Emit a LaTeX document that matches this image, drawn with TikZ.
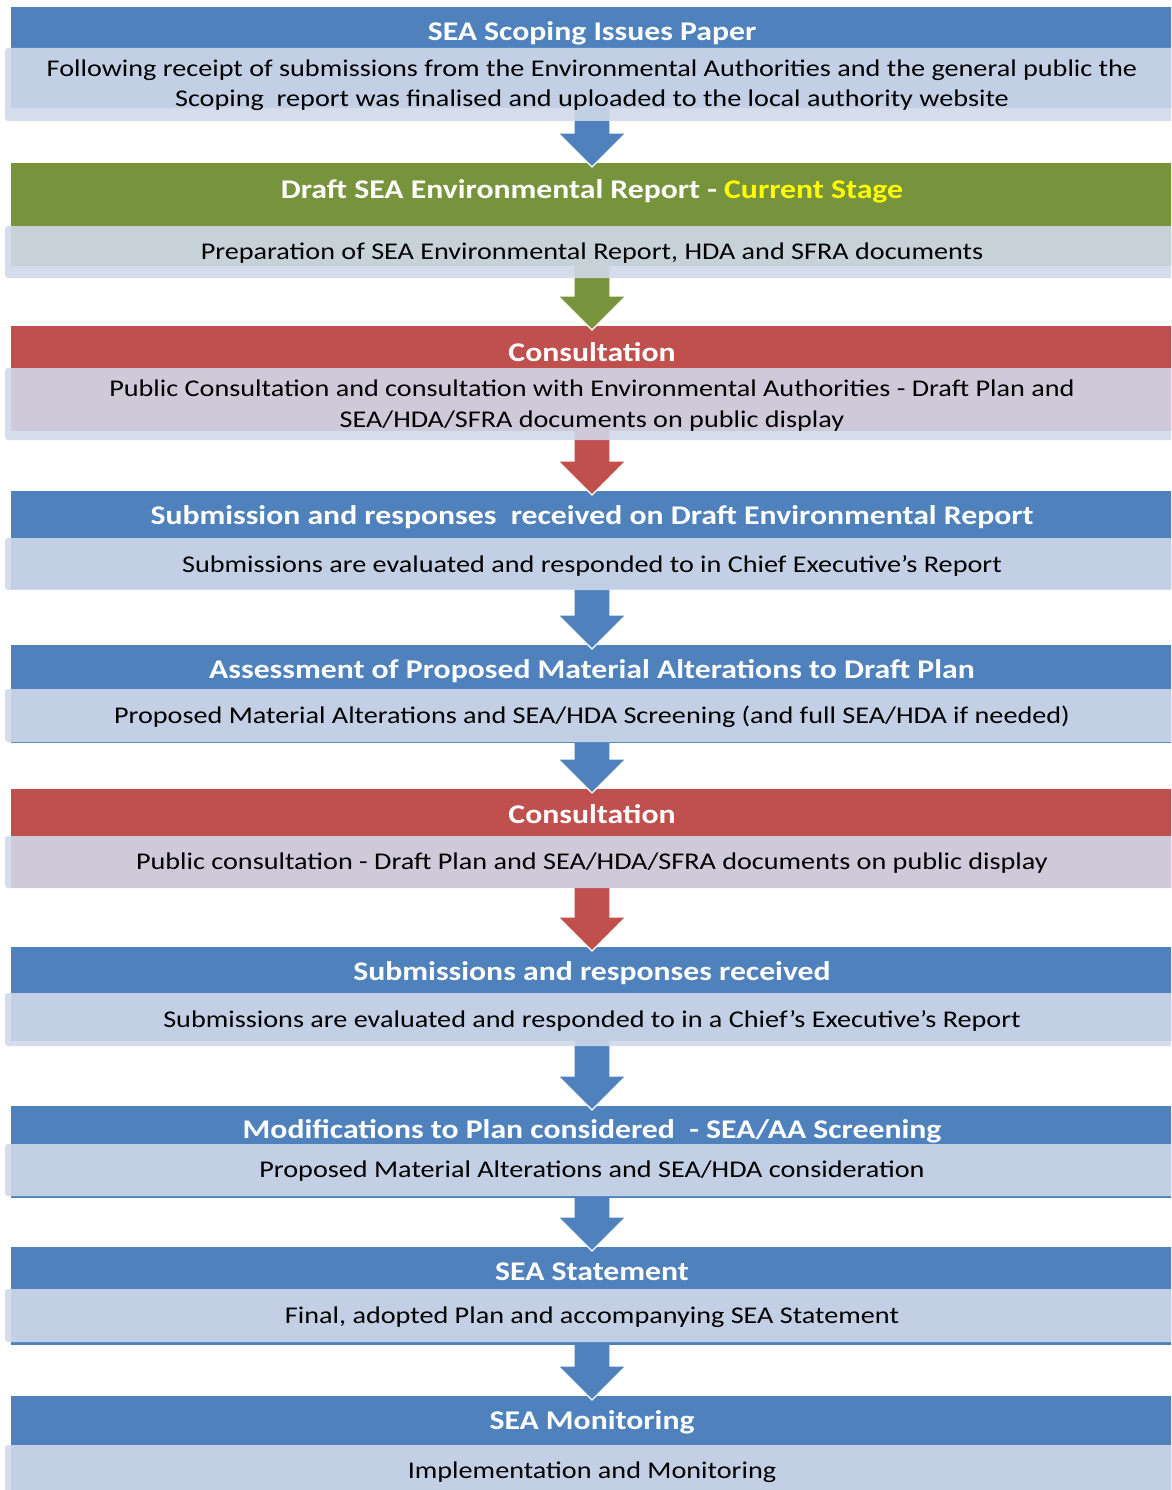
\documentclass[tikz,border=0pt]{standalone}
\usepackage{fontspec}
\setmainfont{Carlito}[FakeStretch=1.175]
\usetikzlibrary{calc}
\definecolor{cblue}{HTML}{4F81BD}
\definecolor{cgreen}{HTML}{77933C}
\definecolor{cred}{HTML}{C0504D}
\definecolor{cbody}{HTML}{D0D8E9}
\definecolor{cyel}{HTML}{FFFF00}
\tikzset{
 hdr/.style={rectangle, inner sep=0pt, outer sep=0pt, draw=none, anchor=north west, minimum width=1162pt},
 bodyrect/.style={rectangle, rounded corners=3pt, inner sep=0pt, outer sep=0pt, fill=cbody, fill opacity=0.9, anchor=north west, minimum width=1180pt},
 htext/.style={text=white, font=\fontsize{27}{32}\selectfont\bfseries, anchor=base, inner sep=0pt},
 btext/.style={text=black, font=\fontsize{24}{30.5}\selectfont, anchor=base, inner sep=0pt, align=center},
 blkedge/.style={draw=white, line width=1.2pt, line join=miter},
}
\newcommand{\blockarr}[3]{%
 \fill[#3] ($(#1.south)+(-18,0)$) -- ($(#2.north)+(-18,30)$) -- ($(#2.north)+(-34,30)$) -- ($(#2.north)+(0,-4)$) -- ($(#2.north)+(34,30)$) -- ($(#2.north)+(18,30)$) -- ($(#1.south)+(18,0)$) -- cycle;
 \draw[blkedge] ($(#1.south)+(-18,0)$) -- ($(#2.north)+(-18,30)$) -- ($(#2.north)+(-34,30)$) -- ($(#2.north)+(0,-4)$) -- ($(#2.north)+(34,30)$) -- ($(#2.north)+(18,30)$) -- ($(#1.south)+(18,0)$);}
\begin{document}
\begin{tikzpicture}[x=1pt,y=1pt]
\clip (0,0) rectangle (1171,-1490);
% headers
\node[hdr, fill=cblue, minimum height=101pt] (h1) at (11,-7) {};
\node[hdr, fill=cgreen, minimum height=103pt] (h2) at (11,-163) {};
\node[hdr, fill=cred, minimum height=105pt] (h3) at (11,-326) {};
\node[hdr, fill=cblue, minimum height=98pt] (h4) at (11,-491) {};
\node[hdr, fill=cblue, minimum height=98pt] (h5) at (11,-645) {};
\node[hdr, fill=cred, minimum height=99pt] (h6) at (11,-789) {};
\node[hdr, fill=cblue, minimum height=94pt] (h7) at (11,-947) {};
\node[hdr, fill=cblue, minimum height=92pt] (h8) at (11,-1106) {};
\node[hdr, fill=cblue, minimum height=98pt] (h9) at (11,-1247) {};
\node[hdr, fill=cblue, minimum height=104pt] (h10) at (11,-1396) {};
% arrows
\blockarr{h1}{h2}{cblue}
\blockarr{h2}{h3}{cgreen}
\blockarr{h3}{h4}{cred}
\blockarr{h4}{h5}{cblue}
\blockarr{h5}{h6}{cblue}
\blockarr{h6}{h7}{cred}
\blockarr{h7}{h8}{cblue}
\blockarr{h8}{h9}{cblue}
\blockarr{h9}{h10}{cblue}
% bodies
\node[bodyrect, minimum height=73pt] (b1) at (5,-48) {};
\node[bodyrect, minimum height=52pt] (b2) at (5,-226) {};
\node[bodyrect, minimum height=72pt] (b3) at (5,-368) {};
\node[bodyrect, minimum height=52pt] (b4) at (5,-538) {};
\node[bodyrect, minimum height=53pt] (b5) at (5,-689) {};
\node[bodyrect, minimum height=52pt] (b6) at (5,-836) {};
\node[bodyrect, minimum height=53pt] (b7) at (5,-993) {};
\node[bodyrect, minimum height=52pt] (b8) at (5,-1144) {};
\node[bodyrect, minimum height=53pt] (b9) at (5,-1289) {};
\node[bodyrect, minimum height=55pt] (b10) at (5,-1445) {};
% header texts
\node[htext] (ht1) at (592,-41) {SEA Scoping Issues Paper};
\node[htext] (ht2) at (592,-198) {Draft SEA Environmental Report - {\color{cyel}Current Stage}};
\node[htext] (ht3) at (592,-361) {Consultation};
\node[htext] (ht4) at (592,-524) {Submission and responses\ \ received on Draft Environmental Report};
\node[htext] (ht5) at (592,-678) {Assessment of Proposed Material Alterations to Draft Plan};
\node[htext] (ht6) at (592,-823) {Consultation};
\node[htext] (ht7) at (592,-980) {Submissions and responses received};
\node[htext] (ht8) at (592,-1138) {Modifications to Plan considered\ \ - SEA/AA Screening};
\node[htext] (ht9) at (592,-1280) {SEA Statement};
\node[htext] (ht10) at (592,-1429) {SEA Monitoring};
% body texts
\node[btext] (bt1) at (592,-107) {Following receipt of submissions from the Environmental Authorities and the general public the\\Scoping\ \ report was finalised and uploaded to the local authority website};
\node[btext] (bt2) at (592,-259) {Preparation of SEA Environmental Report, HDA and SFRA documents};
\node[btext] (bt3) at (592,-427) {Public Consultation and consultation with Environmental Authorities - Draft Plan and\\SEA/HDA/SFRA documents on public display};
\node[btext] (bt4) at (592,-572) {Submissions are evaluated and responded to in Chief Executive's Report};
\node[btext] (bt5) at (592,-723) {Proposed Material Alterations and SEA/HDA Screening (and full SEA/HDA if needed)};
\node[btext] (bt6) at (592,-869) {Public consultation - Draft Plan and SEA/HDA/SFRA documents on public display};
\node[btext] (bt7) at (592,-1027) {Submissions are evaluated and responded to in a Chief's Executive's Report};
\node[btext] (bt8) at (592,-1177) {Proposed Material Alterations and SEA/HDA consideration};
\node[btext] (bt9) at (592,-1323) {Final, adopted Plan and accompanying SEA Statement};
\node[btext] (bt10) at (592,-1478) {Implementation and Monitoring};
\end{tikzpicture}
\end{document}
